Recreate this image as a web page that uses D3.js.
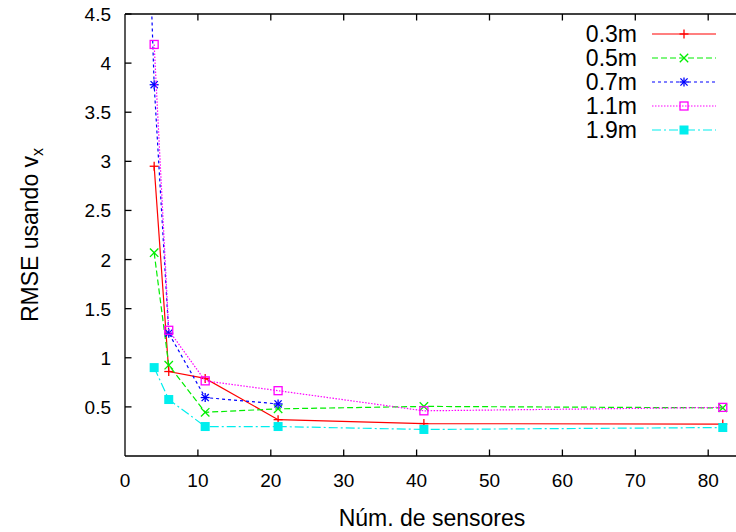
<!DOCTYPE html>
<html>
<head>
<meta charset="utf-8">
<script src="https://cdn.jsdelivr.net/npm/d3@7"></script>
<style>
  html, body { margin: 0; padding: 0; background: #fff; }
  svg { display: block; font-family: "Liberation Sans", Arial, Helvetica, sans-serif; }
</style>
</head>
<body>
<svg id="chart" width="736" height="532"></svg>
<script>
// Number of sensors on the x axis
const sensors = [4, 6, 11, 21, 41, 82];

// RMSE per spacing
const rmse03 = [2.95, 0.86, 0.79, 0.37, 0.33, 0.325];
const rmse05 = [2.07, 0.925, 0.445, 0.48, 0.505, 0.49];
const rmse07x = [3, 4, 6, 11, 21];
const rmse07 = [6.0, 3.78, 1.25, 0.595, 0.53];
const rmse11 = [4.19, 1.28, 0.765, 0.665, 0.46, 0.495];
const rmse19 = [0.90, 0.575, 0.30, 0.30, 0.27, 0.29];

const seriesNames = ["0.3m", "0.5m", "0.7m", "1.1m", "1.9m"];
const xTicks = [0, 10, 20, 30, 40, 50, 60, 70, 80];
const yTicks = [0.5, 1, 1.5, 2, 2.5, 3, 3.5, 4, 4.5];

const series = [
  { name: seriesNames[0], xs: sensors, ys: rmse03, color: "#ff0000", dash: null, marker: "plus" },
  { name: seriesNames[1], xs: sensors, ys: rmse05, color: "#00ee00", dash: "6,3", marker: "cross" },
  { name: seriesNames[2], xs: rmse07x, ys: rmse07, color: "#0000ff", dash: "3,3", marker: "star" },
  { name: seriesNames[3], xs: sensors, ys: rmse11, color: "#ff00ff", dash: "1.5,1.5", marker: "square" },
  { name: seriesNames[4], xs: sensors, ys: rmse19, color: "#00eeee", dash: "9,3,2,3", marker: "fsquare" }
];

const svg = d3.select("#chart");
const plotLeft = 125, plotTop = 14, plotBottom = 456;
const x = d3.scaleLinear().domain([0, 85]).range([plotLeft, plotLeft + 85 * 7.29]);
const y = d3.scaleLinear().domain([0, 4.5]).range([plotBottom, plotTop]);

// clip region for the plot area
svg.append("defs").append("clipPath").attr("id", "plotclip")
  .append("rect").attr("x", plotLeft).attr("y", plotTop)
  .attr("width", 736 - plotLeft).attr("height", plotBottom - plotTop);

// frame: left, bottom, top
const frame = svg.append("g").attr("stroke", "#000").attr("stroke-width", 1.3).attr("fill", "none");
frame.append("line").attr("x1", plotLeft).attr("x2", plotLeft).attr("y1", plotTop).attr("y2", plotBottom);
frame.append("line").attr("x1", plotLeft).attr("x2", 736).attr("y1", plotBottom).attr("y2", plotBottom);
frame.append("line").attr("x1", plotLeft).attr("x2", 736).attr("y1", plotTop).attr("y2", plotTop);

// inward ticks, mirrored on the top edge
const tickLen = 6.5;
xTicks.forEach(t => {
  if (t === 0) return;
  const px = x(t);
  frame.append("line").attr("x1", px).attr("x2", px).attr("y1", plotBottom).attr("y2", plotBottom - tickLen);
  frame.append("line").attr("x1", px).attr("x2", px).attr("y1", plotTop).attr("y2", plotTop + tickLen);
});
yTicks.forEach(t => {
  const py = y(t);
  frame.append("line").attr("x1", plotLeft).attr("x2", plotLeft + tickLen).attr("y1", py).attr("y2", py);
});

// tick labels
svg.append("g").selectAll("text").data(xTicks).join("text")
  .attr("x", d => x(d)).attr("y", 487)
  .attr("text-anchor", "middle").attr("font-size", 19).text(d => d);
svg.append("g").selectAll("text").data(yTicks).join("text")
  .attr("x", 111).attr("y", d => y(d) + 7)
  .attr("text-anchor", "end").attr("font-size", 19).text(d => d);

// axis titles
svg.append("text").attr("x", 432).attr("y", 526).attr("text-anchor", "middle")
  .attr("font-size", 23).text("Núm. de sensores");
const yl = svg.append("text").attr("transform", "translate(38,235) rotate(-90)")
  .attr("text-anchor", "middle").attr("font-size", 23);
yl.append("tspan").text("RMSE usando v");
yl.append("tspan").attr("font-size", 16).attr("dy", 5).text("x");

// point markers in gnuplot style
function drawMarker(g, type, cx, cy, color) {
  const s = 4.5;
  if (type === "plus" || type === "star") {
    g.append("line").attr("x1", cx - s).attr("x2", cx + s).attr("y1", cy).attr("y2", cy).attr("stroke", color);
    g.append("line").attr("x1", cx).attr("x2", cx).attr("y1", cy - s).attr("y2", cy + s).attr("stroke", color);
  }
  if (type === "cross" || type === "star") {
    const k = type === "star" ? 3.6 : 4.2;
    g.append("line").attr("x1", cx - k).attr("x2", cx + k).attr("y1", cy - k).attr("y2", cy + k).attr("stroke", color);
    g.append("line").attr("x1", cx - k).attr("x2", cx + k).attr("y1", cy + k).attr("y2", cy - k).attr("stroke", color);
  }
  if (type === "square") {
    g.append("rect").attr("x", cx - 4).attr("y", cy - 4).attr("width", 8).attr("height", 8)
      .attr("fill", "none").attr("stroke", color).attr("stroke-width", 1.3);
  }
  if (type === "fsquare") {
    g.append("rect").attr("x", cx - 4.5).attr("y", cy - 4.5).attr("width", 9).attr("height", 9)
      .attr("fill", color);
  }
}

const plot = svg.append("g").attr("clip-path", "url(#plotclip)");
const line = d3.line().x(d => x(d[0])).y(d => y(d[1]));

series.forEach(s => {
  const pts = s.xs.map((v, i) => [v, s.ys[i]]);
  plot.append("path").datum(pts).attr("d", line)
    .attr("fill", "none").attr("stroke", s.color).attr("stroke-width", 1.2)
    .attr("stroke-dasharray", s.dash);
  const mg = plot.append("g").attr("stroke-width", 1.3);
  pts.forEach(p => drawMarker(mg, s.marker, x(p[0]), y(p[1]), s.color));
});

// legend
const lg = svg.append("g");
series.forEach((s, i) => {
  const ly = 34 + i * 24;
  lg.append("text").attr("x", 637).attr("y", ly + 8).attr("text-anchor", "end")
    .attr("font-size", 23).text(s.name);
  lg.append("line").attr("x1", 652).attr("x2", 716).attr("y1", ly).attr("y2", ly)
    .attr("stroke", s.color).attr("stroke-width", 1.2).attr("stroke-dasharray", s.dash);
  const mg = lg.append("g").attr("stroke-width", 1.3);
  drawMarker(mg, s.marker, 684, ly, s.color);
});
</script>
</body>
</html>
